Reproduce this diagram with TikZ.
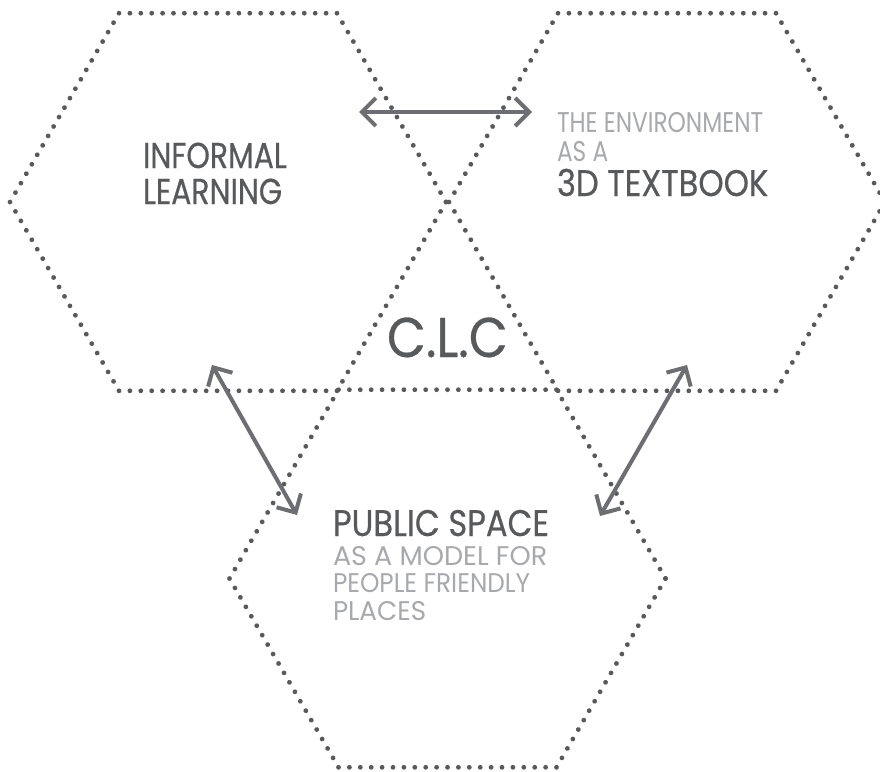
\documentclass[tikz,border=0pt]{standalone}
\usepackage{fontspec}
\setmainfont{Poppins}
\usetikzlibrary{arrows.meta,decorations.markings}
\definecolor{dk}{HTML}{58595B}
\definecolor{lt}{HTML}{A7A9AC}
\definecolor{ar}{HTML}{6D6E71}
\begin{document}
\begin{tikzpicture}[x=1pt,y=-1pt,
  hexline/.style={postaction={decorate, decoration={markings,
      mark=between positions 0 and 1 step 10.9pt with {\fill[dk] (0,0) circle (2.4pt);}}}},
  link/.style={draw=ar, line width=4pt, {Straight Barb[length=14pt,width=28pt]}-{Straight Barb[length=14pt,width=28pt]}},
  lbl/.style={anchor=base west, inner sep=0pt, outer sep=0pt},
  fs/.style 2 args={font={\addfontfeatures{FakeStretch=#2}\fontsize{#1}{#1}\selectfont}},
  fsb/.style 2 args={font={\addfontfeatures{FakeStretch=#2,FakeBold=0.5}\fontsize{#1}{#1}\selectfont}}
  ]
\useasboundingbox (0,0) rectangle (880,771);
\coordinate (h1) at (228,202);
\coordinate (h2) at (667,202);
\coordinate (h3) at (447.5,578.5);
\foreach \c in {h1,h2,h3}{
  \path[hexline] (\c)+(0:218) -- +(60:218) -- +(120:218) -- +(180:218) -- +(240:218) -- +(300:218) -- cycle;
}
% texts
\node[lbl, text=dk, fsb={36}{0.83}] (t1a) at (143,168) {INFORMAL};
\node[lbl, text=dk, fsb={36}{0.83}] (t1b) at (143,204) {LEARNING};
\node[lbl, text=lt, fs={28.5}{0.816}] (t2a) at (557,132) {THE ENVIRONMENT};
\node[lbl, text=lt, fs={28.5}{0.816}] (t2b) at (557,161) {AS A};
\node[lbl, text=dk, fsb={37}{0.87}] (t2c) at (557,196) {3D TEXTBOOK};
\node[lbl, text=dk, fsb={56}{0.9}] (clc) at (387,357) {C.L.C};
\node[lbl, text=dk, fsb={37}{0.87}] (t3a) at (333,536) {PUBLIC SPACE};
\node[lbl, text=lt, fs={27}{1.0}] (t3b) at (333,565) {AS A MODEL FOR};
\node[lbl, text=lt, fs={27}{0.916}] (t3c) at (333,592) {PEOPLE FRIENDLY};
\node[lbl, text=lt, fs={27}{0.97}] (t3d) at (333,620) {PLACES};
% arrows
\coordinate (a1l) at (359,112);
\coordinate (a1r) at (532,112);
\coordinate (a2t) at (212,365);
\coordinate (a2b) at (297,515);
\coordinate (a3t) at (687,365);
\coordinate (a3b) at (600,516);
\draw[link] (a1l) -- (a1r);
\draw[link] (a2t) -- (a2b);
\draw[link] (a3t) -- (a3b);
\end{tikzpicture}
\end{document}
